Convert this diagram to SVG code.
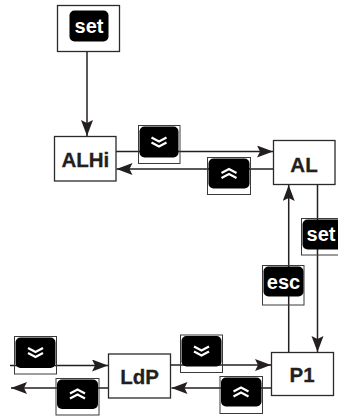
<svg xmlns="http://www.w3.org/2000/svg" width="338" height="416" viewBox="0 0 338 416">
<style>
.box{fill:#fff;stroke:#2a2a2a;stroke-width:1.3}
.lbl{font-family:"Liberation Sans",Arial,sans-serif;font-weight:bold;font-size:20.5px;fill:#231f20;text-anchor:middle;stroke:#231f20;stroke-width:0.3}
.key{fill:#000}
.kout{fill:none;stroke:#3a3a3a;stroke-width:1}
.ktxt{font-family:"Liberation Sans",Arial,sans-serif;font-weight:bold;font-size:20px;fill:#fff;text-anchor:middle}
.chev{fill:none;stroke:#fff;stroke-width:2.2}
.con{fill:none;stroke:#231f20;stroke-width:1.5}
</style>
<defs>
<marker id="ah" markerUnits="userSpaceOnUse" markerWidth="17" markerHeight="13" refX="16" refY="6" orient="auto">
<path d="M0,0 L16,6 L0,12 L3,6 z" fill="#231f20"/>
</marker>
<path id="dn" class="chev" d="M-7.5,-4.5 L0,-0.5 L7.5,-4.5 M-7.5,0.5 L0,4.5 L7.5,0.5"/>
<path id="up" class="chev" d="M-7.5,4.5 L0,0.5 L7.5,4.5 M-7.5,-0.5 L0,-4.5 L7.5,-0.5"/>
</defs>

<g id="connectors">
<line class="con" x1="87" y1="51.5" x2="87" y2="136" marker-end="url(#ah)"/>
<line class="con" x1="116" y1="151.5" x2="273" y2="151.5" marker-end="url(#ah)"/>
<line class="con" x1="273.5" y1="169" x2="116.5" y2="169" marker-end="url(#ah)"/>
<line class="con" x1="288.7" y1="352.5" x2="288.7" y2="185" marker-end="url(#ah)"/>
<line class="con" x1="317.5" y1="184.5" x2="317.5" y2="352" marker-end="url(#ah)"/>
<line class="con" x1="171" y1="365" x2="271" y2="365" marker-end="url(#ah)"/>
<line class="con" x1="271.5" y1="388" x2="171.5" y2="388" marker-end="url(#ah)"/>
<line class="con" x1="10" y1="365.5" x2="108" y2="365.5" marker-end="url(#ah)"/>
<line class="con" x1="108.5" y1="388" x2="11" y2="388" marker-end="url(#ah)"/>

<g id="key-down-1">
<rect class="kout" x="138.5" y="125.5" width="41.5" height="38"/>
<rect class="key" x="139.5" y="126.5" width="39" height="31" rx="5"/>
<use href="#dn" x="159" y="142"/>
</g>
<g id="key-up-1">
<rect class="kout" x="207.5" y="157.5" width="43" height="37"/>
<rect class="key" x="208.5" y="158.5" width="41" height="30" rx="5"/>
<use href="#up" x="229" y="173.5"/>
</g>
<g id="key-esc">
<rect class="kout" x="262.5" y="265.5" width="41.5" height="39.5"/>
<rect class="key" x="263.5" y="266.5" width="40" height="30" rx="5"/>
<text class="ktxt" x="283.5" y="288.5">esc</text>
</g>
<g id="key-set-2">
<rect class="kout" x="301.5" y="218.5" width="40" height="36.5"/>
<rect class="key" x="302.5" y="219.5" width="40" height="30" rx="5"/>
<text class="ktxt" x="321" y="241">set</text>
</g>
<g id="key-down-2">
<rect class="kout" x="180.5" y="335" width="42" height="37.5"/>
<rect class="key" x="181.5" y="336" width="40" height="30.5" rx="5"/>
<use href="#dn" x="201.5" y="351"/>
</g>
<g id="key-up-2">
<rect class="kout" x="220" y="376.5" width="42.5" height="37"/>
<rect class="key" x="221" y="377.5" width="40.5" height="29" rx="5"/>
<use href="#up" x="241" y="392"/>
</g>
<g id="key-down-3">
<rect class="kout" x="14.5" y="336.5" width="42" height="37.5"/>
<rect class="key" x="15.5" y="337.5" width="40" height="30.5" rx="5"/>
<use href="#dn" x="35.5" y="352.5"/>
</g>
<g id="key-up-3">
<rect class="kout" x="56" y="378.5" width="43" height="36.5"/>
<rect class="key" x="57" y="379.5" width="41" height="29.5" rx="5"/>
<use href="#up" x="77.5" y="394"/>
</g>
</g>

<g id="node-set">
<rect class="box" x="57.5" y="5.5" width="62" height="46"/>
<rect class="key" x="69.5" y="10.5" width="39" height="31" rx="5"/>
<text class="ktxt" x="89" y="33">set</text>
</g>
<g id="node-ALHi">
<rect class="box" x="54.5" y="136.5" width="61.5" height="44.5"/>
<text class="lbl" x="85.3" y="166.5">ALHi</text>
</g>
<g id="node-AL">
<rect class="box" x="273.5" y="140.5" width="61.5" height="44"/>
<text class="lbl" x="304" y="171.5">AL</text>
</g>
<g id="node-P1">
<rect class="box" x="271.5" y="352.5" width="62" height="43"/>
<text class="lbl" x="302" y="382">P1</text>
</g>
<g id="node-LdP">
<rect class="box" x="108.5" y="354" width="62" height="44"/>
<text class="lbl" x="139.5" y="383.5">LdP</text>
</g>
</svg>
